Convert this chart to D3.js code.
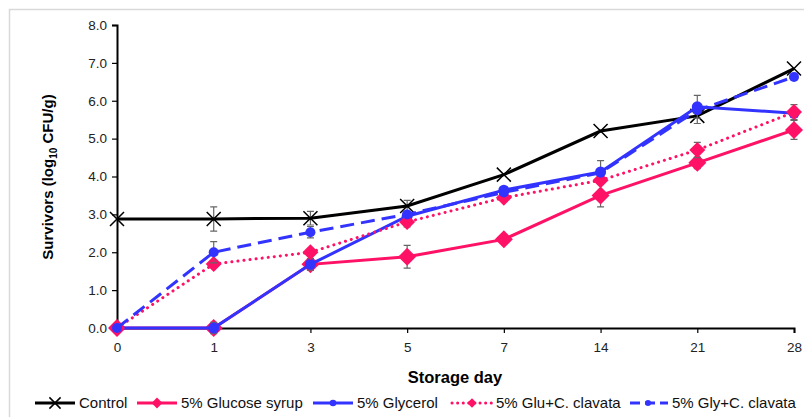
<!DOCTYPE html>
<html>
<head>
<meta charset="utf-8">
<script src="https://cdn.jsdelivr.net/npm/d3@7"></script>
<style>
  body { margin: 0; background: #fff; }
  svg { display: block; font-family: Arial, "Liberation Sans", sans-serif; }
</style>
</head>
<body>
<svg id="chart" width="804" height="417"></svg>
<script>
const days = ["0", "1", "3", "5", "7", "14", "21", "28"];
const yTicks = [0, 1, 2, 3, 4, 5, 6, 7, 8];

const control = [2.88, 2.88, 2.9, 3.22, 4.05, 5.2, 5.6, 6.85];
const controlErr = [0, 0.32, 0.18, 0.15, 0, 0, 0.2, 0];
const glucose = [0, 0, 1.68, 1.88, 2.34, 3.5, 4.36, 5.23];
const glucoseErr = [0, 0, 0.15, 0.3, 0, 0.3, 0.15, 0.25];
const glycerol = [0, 0, 1.68, 2.95, 3.64, 4.12, 5.84, 5.67];
const glycerolErr = [0, 0.15, 0.15, 0, 0, 0.3, 0.3, 0];
const gluC = [0, 1.69, 2.0, 2.8, 3.44, 3.9, 4.7, 5.7];
const gluCErr = [0, 0, 0, 0.13, 0, 0, 0.2, 0.2];
const glyC = [0, 2.0, 2.53, 3.0, 3.58, 4.1, 5.75, 6.63];
const glyCErr = [0, 0.28, 0.15, 0, 0, 0, 0, 0];

const pink = "#ff1166";
const blue = "#3333ff";

const series = [
  { name: "Control", values: control, err: controlErr, color: "#000", dash: null, marker: "x", size: 7 },
  { name: "5% Glucose syrup", values: glucose, err: glucoseErr, color: pink, dash: null, marker: "diamond", size: 9 },
  { name: "5% Glycerol", values: glycerol, err: glycerolErr, color: blue, dash: null, marker: "circle", size: 5.5 },
  { name: "5% Glu+C. clavata", values: gluC, err: gluCErr, color: pink, dash: "0.1,6", marker: "diamond", size: 8 },
  { name: "5% Gly+C. clavata", values: glyC, err: glyCErr, color: blue, dash: "14,7", marker: "circle", size: 5 }
];

const svg = d3.select("#chart");

// outer frame
svg.append("rect")
  .attr("x", 9.5).attr("y", 9.5)
  .attr("width", 820).attr("height", 430)
  .attr("fill", "none").attr("stroke", "#d9d9d9").attr("stroke-width", 1.5);

const x = d3.scalePoint().domain(days).range([117, 794]);
const y = d3.scaleLinear().domain([0, 8]).range([328, 25]);

// axes
const yAxis = svg.append("g")
  .attr("transform", "translate(117,0)")
  .call(d3.axisLeft(y).tickValues(yTicks).tickFormat(d3.format(".1f")).tickSizeOuter(0).tickSize(5).tickPadding(5));
const xAxis = svg.append("g")
  .attr("transform", "translate(0,328)")
  .call(d3.axisBottom(x).tickSizeOuter(0).tickSize(5).tickPadding(9));
[xAxis, yAxis].forEach(g => {
  g.select(".domain").attr("stroke", "#000").attr("stroke-width", 2);
  g.selectAll(".tick line").attr("stroke", "#000").attr("stroke-width", 1.2);
  g.selectAll(".tick text").attr("fill", "#222").style("font-size", "13.5px");
});

// axis titles
svg.append("text")
  .attr("x", 455).attr("y", 383)
  .attr("text-anchor", "middle")
  .style("font-size", "16.5px").style("font-weight", "bold")
  .text("Storage day");

const yt = svg.append("text")
  .attr("transform", "translate(53,177) rotate(-90)")
  .attr("text-anchor", "middle")
  .style("font-size", "15px").style("font-weight", "bold");
yt.append("tspan").text("Survivors (log");
yt.append("tspan").attr("dy", 4).style("font-size", "10px").text("10");
yt.append("tspan").attr("dy", -4).text(" CFU/g)");

function drawMarker(g, s, cx, cy, scale) {
  const k = scale || 1;
  if (s.marker === "x") {
    const r = s.size * k;
    g.append("path")
      .attr("d", `M${cx - r},${cy - r}L${cx + r},${cy + r}M${cx - r},${cy + r}L${cx + r},${cy - r}`)
      .attr("stroke", s.color).attr("stroke-width", 1.5);
  } else if (s.marker === "diamond") {
    const r = s.size * k;
    g.append("path")
      .attr("d", `M${cx},${cy - r}L${cx + r},${cy}L${cx},${cy + r}L${cx - r},${cy}Z`)
      .attr("fill", s.color);
  } else {
    g.append("circle").attr("cx", cx).attr("cy", cy).attr("r", s.size * k).attr("fill", s.color);
  }
}

const line = d3.line().x((d, i) => x(days[i])).y(d => y(d));

series.forEach(s => {
  const g = svg.append("g");
  // error bars
  s.values.forEach((v, i) => {
    const e = s.err[i];
    if (!e) return;
    const cx = x(days[i]);
    g.append("path")
      .attr("d", `M${cx},${y(v + e)}L${cx},${y(v - e)}M${cx - 3.5},${y(v + e)}L${cx + 3.5},${y(v + e)}M${cx - 3.5},${y(v - e)}L${cx + 3.5},${y(v - e)}`)
      .attr("stroke", "#666").attr("stroke-width", 1.2).attr("fill", "none");
  });
  g.append("path")
    .datum(s.values)
    .attr("d", line)
    .attr("fill", "none")
    .attr("stroke", s.color)
    .attr("stroke-width", 3)
    .attr("stroke-linecap", s.dash && s.dash.startsWith("0.1") ? "round" : "butt")
    .attr("stroke-dasharray", s.dash);
  s.values.forEach((v, i) => drawMarker(g, s, x(days[i]), y(v)));
});

// legend
const legendX = [35, 137, 313, 452, 628];
const legend = svg.append("g").attr("transform", "translate(0,403)");
series.forEach((s, i) => {
  const lg = legend.append("g").attr("transform", `translate(${legendX[i]},0)`);
  lg.append("line")
    .attr("x1", 0).attr("x2", 40).attr("y1", 0).attr("y2", 0)
    .attr("stroke", s.color).attr("stroke-width", 3)
    .attr("stroke-linecap", s.dash && s.dash.startsWith("0.1") ? "round" : "butt")
    .attr("stroke-dasharray", s.dash ? (s.dash.startsWith("0.1") ? "0.1,5.5" : "10,5") : null)
    .attr("stroke-dashoffset", s.dash && s.dash.startsWith("0.1") ? 0 : -2);
  drawMarker(lg, s, 20, 0, s.marker === "x" ? 0.8 : 0.6);
  lg.append("text")
    .attr("x", 44).attr("y", 5)
    .style("font-size", "15px").attr("fill", "#111")
    .text(s.name);
});
</script>
</body>
</html>
